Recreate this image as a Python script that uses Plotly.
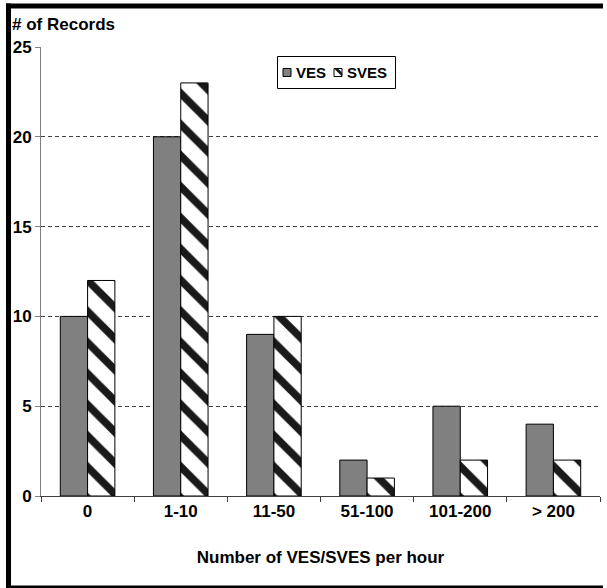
import plotly.graph_objects as go

categories = ["0", "1-10", "11-50", "51-100", "101-200", "> 200"]
ves = [10, 20, 9, 2, 5, 4]
sves = [12, 23, 10, 1, 2, 2]
y_ticks = [0, 5, 10, 15, 20, 25]
series_names = ["VES", "SVES"]

FONT = "Liberation Sans"
VES_COLOR = "#808080"

# plot-area geometry (px) used to place decoration in paper coordinates
L, R, T, B = 41, 600, 47, 496
W, H = R - L, B - T


def px(xp):
    return (xp - L) / W


def py(yp):
    return (B - yp) / H


fig = go.Figure()
fig.add_trace(go.Bar(
    x=categories, y=ves, name=series_names[0],
    marker=dict(color=VES_COLOR, line=dict(color="#000000", width=1)),
))
fig.add_trace(go.Bar(
    x=categories, y=sves, name=series_names[1],
    marker=dict(color="#ffffff", line=dict(color="#000000", width=1),
                pattern=dict(shape="\\", fgcolor="#1a1a1a", bgcolor="#ffffff",
                             size=22, solidity=0.35, fillmode="replace")),
))

frame = dict(color="#000000", width=5)
shapes = [
    # outer frame: left, top and bottom edges (right edge lies off the page)
    dict(type="line", xref="paper", yref="paper",
         x0=px(8.5), x1=px(8.5), y0=py(590), y1=py(3.5), line=frame, layer="above"),
    dict(type="line", xref="paper", yref="paper",
         x0=px(6), x1=px(603), y0=py(6), y1=py(6), line=frame, layer="above"),
    dict(type="line", xref="paper", yref="paper",
         x0=px(6), x1=px(603), y0=py(588), y1=py(588), line=frame, layer="above"),
    # legend box
    dict(type="rect", xref="paper", yref="paper",
         x0=px(277.5), x1=px(395.5), y0=py(88.5), y1=py(56.5),
         line=dict(color="#000000", width=1), fillcolor="white", layer="above"),
    # VES swatch
    dict(type="rect", xref="paper", yref="paper",
         x0=px(283), x1=px(291), y0=py(76.5), y1=py(68.5),
         line=dict(color="#000000", width=1), fillcolor=VES_COLOR, layer="above"),
    # SVES swatch
    dict(type="rect", xref="paper", yref="paper",
         x0=px(334), x1=px(342), y0=py(76.5), y1=py(68.5),
         line=dict(color="#000000", width=1), fillcolor="white", layer="above"),
    dict(type="path", xref="paper", yref="paper",
         path=f"M {px(334)} {py(68.5)} L {px(338)} {py(68.5)} L {px(342)} {py(72.5)} "
              f"L {px(342)} {py(76.5)} Z",
         line=dict(color="#1a1a1a", width=0), fillcolor="#1a1a1a", layer="above"),
]

annotations = [
    dict(text="# of Records", xref="paper", yref="paper",
         x=px(10), y=py(24), xanchor="left", yanchor="middle",
         showarrow=False, font=dict(family=FONT, size=17, weight="bold")),
    dict(text=series_names[0], xref="paper", yref="paper",
         x=px(294), y=py(72.5), xanchor="left", yanchor="middle",
         showarrow=False, font=dict(family=FONT, size=15, weight="bold")),
    dict(text=series_names[1], xref="paper", yref="paper",
         x=px(345), y=py(72.5), xanchor="left", yanchor="middle",
         showarrow=False, font=dict(family=FONT, size=15, weight="bold")),
]

fig.update_layout(
    width=607, height=588,
    margin=dict(l=L, r=607 - R, t=T, b=588 - B, autoexpand=False),
    paper_bgcolor="white", plot_bgcolor="white",
    font=dict(family=FONT, size=17, color="#000000", weight="bold"),
    barmode="group", bargap=0.414, bargroupgap=0,
    showlegend=False,
    xaxis=dict(
        type="category", tickson="boundaries", ticks="outside", ticklen=5,
        tickcolor="#404040", showline=True, linecolor="#404040", linewidth=1,
        showgrid=False, automargin=False,
        tickfont=dict(family=FONT, size=17, weight="bold"),
        title=dict(text="Number of VES/SVES per hour", standoff=30,
                   font=dict(family=FONT, size=17, weight="bold")),
    ),
    yaxis=dict(
        range=[0, 25], tickvals=y_ticks, ticks="outside", ticklen=5,
        tickcolor="#808080", showline=True, linecolor="#808080", linewidth=1,
        showgrid=True, gridcolor="#404040", gridwidth=1, griddash="4px,3px",
        zeroline=False, automargin=False,
        tickfont=dict(family=FONT, size=17, weight="bold"),
    ),
    shapes=shapes,
    annotations=annotations,
)

fig.write_html(
    "out.html", config={"displayModeBar": False},
    post_script=("document.body.style.margin='0';"
                 "document.body.style.overflow='hidden';"
                 "document.documentElement.style.overflow='hidden';"),
)
